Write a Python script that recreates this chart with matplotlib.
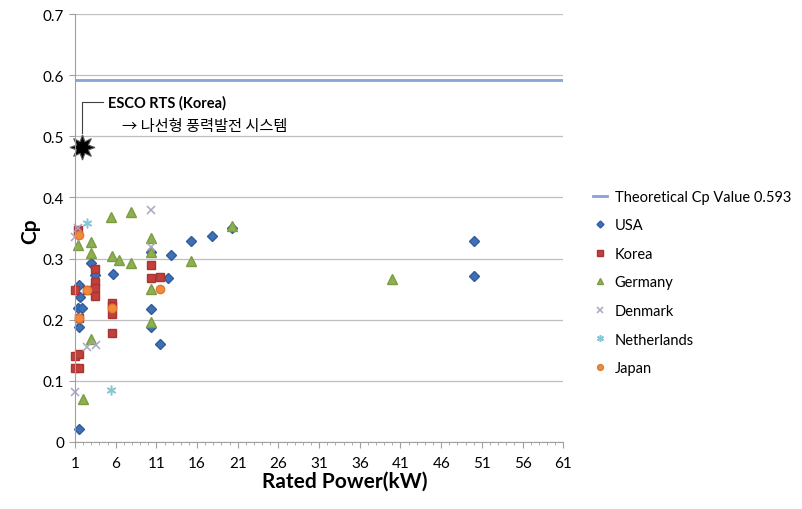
import numpy as np
import matplotlib.pyplot as plt
from matplotlib.ticker import FixedLocator, MultipleLocator, FuncFormatter

plt.rcParams['font.family'] = ['Lato', 'Noto Sans CJK KR', 'DejaVu Sans']

# rated power (kW) and Cp
usa_x = [1.5, 1.65, 1.4, 1.8, 1.5, 1.5, 2.95, 3.5, 5.7, 10.35, 10.35, 10.35,
         11.4, 12.4, 12.85, 15.3, 17.8, 20.3, 50, 50]
usa_cp = [0.257, 0.238, 0.219, 0.220, 0.188, 0.022, 0.292, 0.273, 0.275, 0.310, 0.217, 0.188,
          0.160, 0.268, 0.306, 0.328, 0.337, 0.350, 0.328, 0.272]

korea_x = [1.4, 1.0, 2.5, 3.5, 3.5, 3.5, 3.5, 5.5, 5.5, 5.5, 5.5, 1.0, 1.45,
           1.0, 1.5, 1.45, 10.35, 10.35, 11.4]
korea_cp = [0.346, 0.248, 0.249, 0.283, 0.261, 0.252, 0.239, 0.228, 0.223, 0.209, 0.178, 0.141, 0.144,
            0.121, 0.121, 0.203, 0.289, 0.268, 0.270]

germany_x = [5.4, 7.9, 1.4, 2.95, 2.95, 5.5, 6.4, 7.9, 10.35, 10.35, 10.35, 10.35,
             15.3, 2.95, 2.0, 20.3, 40]
germany_cp = [0.368, 0.377, 0.323, 0.327, 0.309, 0.305, 0.298, 0.292, 0.333, 0.310, 0.250, 0.196,
              0.296, 0.169, 0.070, 0.353, 0.267]

denmark_x = [10.35, 1.4, 1.0, 10.35, 2.5, 3.6, 1.0]
denmark_cp = [0.380, 0.350, 0.336, 0.319, 0.155, 0.159, 0.082]

netherlands_x = [2.5, 5.4]
netherlands_cp = [0.358, 0.085]

japan_x = [1.45, 2.5, 1.45, 5.5, 11.4]
japan_cp = [0.339, 0.249, 0.203, 0.219, 0.250]

theory_x = [1, 61]
theory_cp = [0.593, 0.593]

esco_x = [1.8]
esco_cp = [0.483]

x_ticks = np.arange(1, 62, 5)

fig = plt.figure(figsize=(8.03, 5.10), dpi=100)
ax = fig.add_axes([0.0934, 0.1314, 0.608, 0.839])

ax.plot(theory_x, theory_cp, color='#8aa2d4', lw=2.0, label='Theoretical Cp Value 0.593')
ax.plot(usa_x, usa_cp, ls='none', marker='D', ms=5, color='#3f6fb5', mec='#2f5c9c',
        label='USA', clip_on=False)
ax.plot(korea_x, korea_cp, ls='none', marker='s', ms=6, color='#c0403d', mec='#a83532',
        label='Korea', clip_on=False)
ax.plot(germany_x, germany_cp, ls='none', marker='^', ms=6.5, color='#8fb050', mec='#7c9c44',
        label='Germany', clip_on=False)
ax.plot(denmark_x, denmark_cp, ls='none', marker='x', ms=6, mew=1.1, color='#a9a6c4',
        label='Denmark', clip_on=False)
ax.plot(netherlands_x, netherlands_cp, ls='none', marker=(6, 2, 0), ms=7, mew=1.1, color='#86c6d8',
        label='Netherlands', clip_on=False)
ax.plot(japan_x, japan_cp, ls='none', marker='o', ms=6, color='#f08a3c', mec='#e07a30',
        label='Japan', clip_on=False)

ax.plot(esco_x, esco_cp, ls='none', marker=(8, 1, 0), ms=18, color='black', mec='#555555',
        mew=0.8, clip_on=False)

# leader line and annotation
ax.plot([1.8, 1.8, 4.4], [0.505, 0.556, 0.556], color='#404040', lw=0.8)
ax.text(5.1, 0.556, 'ESCO RTS (Korea)', fontsize=10.5, fontweight='bold', va='center', ha='left')
ax.text(6.8, 0.518, '\u2192 나선형 풍력발전 시스템', fontsize=11, va='center', ha='left',
        family=['Noto Sans CJK KR', 'DejaVu Sans'])

ax.set_xlim(1, 61)
ax.set_ylim(0, 0.7)
ax.xaxis.set_major_locator(FixedLocator(x_ticks))
ax.xaxis.set_minor_locator(MultipleLocator(1))
ax.yaxis.set_major_locator(MultipleLocator(0.1))
ax.yaxis.set_major_formatter(FuncFormatter(lambda v, p: '%g' % round(v, 2)))
ax.grid(axis='y', color='#bfbfbf', lw=0.9)
ax.set_axisbelow(True)
for s in ['top', 'right']:
    ax.spines[s].set_visible(False)
for s in ['left', 'bottom']:
    ax.spines[s].set_color('#a0a0a0')
ax.tick_params(axis='y', which='major', length=4, color='#a0a0a0', labelsize=11, pad=4)
ax.tick_params(axis='x', which='major', length=4, color='#a0a0a0', labelsize=11, pad=6)
ax.tick_params(axis='x', which='minor', length=2, color='#a0a0a0')

fig.text(30 / 803, 1 - 231 / 510, 'Cp', rotation=90, fontsize=15, fontweight='bold',
         ha='center', va='center')
fig.text(345 / 803, 1 - 482 / 510, 'Rated Power(kW)', fontsize=15, fontweight='bold',
         ha='center', va='center')

fig.legend(loc='upper left', bbox_to_anchor=(0.722, 0.652), frameon=False, fontsize=10.5,
           handlelength=1.0, handletextpad=0.5, labelspacing=1.0, markerscale=0.7)

fig.savefig('out.png', dpi=100)
